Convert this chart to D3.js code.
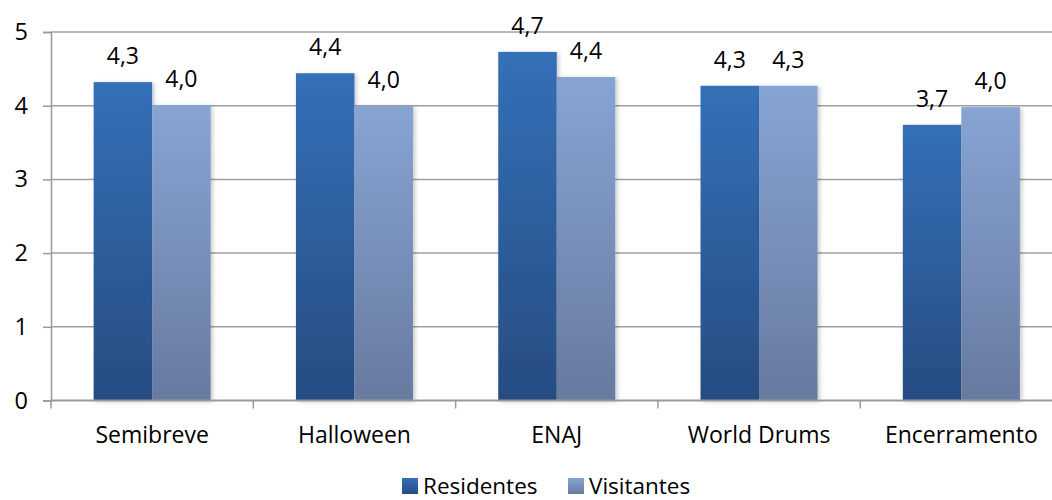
<!DOCTYPE html>
<html>
<head>
<meta charset="utf-8">
<script src="https://cdn.jsdelivr.net/npm/d3@7"></script>
<style>
  html, body { margin: 0; padding: 0; background: #fff; }
  svg { display: block; font-family: "Open Sans", Lato, sans-serif; }
</style>
</head>
<body>
<svg id="chart" width="1052" height="500"></svg>
<script>
const categories = ["Semibreve", "Halloween", "ENAJ", "World Drums", "Encerramento"];
const seriesNames = ["Residentes", "Visitantes"];
const residentes = [4.32, 4.44, 4.73, 4.27, 3.74];
const visitantes = [4.01, 4.00, 4.39, 4.27, 3.98];
const yTicks = [0, 1, 2, 3, 4, 5];

(function () {
const svg = d3.select("#chart");
const W = 1052, H = 500;
const mLeft = 51, mRight = 1062.5, mTop = 32, mBottom = 400.5;

const x0 = d3.scaleBand().domain(categories).range([mLeft, mRight]).paddingInner(0.4216).paddingOuter(0.2108);
const x1 = d3.scaleBand().domain(seriesNames).range([0, x0.bandwidth()]);
const y = d3.scaleLinear().domain([0, 5]).range([mBottom, mTop]);

const defs = svg.append("defs");
const g1 = defs.append("linearGradient").attr("id", "gRes").attr("x1", 0).attr("y1", 0).attr("x2", 0).attr("y2", 1);
g1.append("stop").attr("offset", "0%").attr("stop-color", "#3470b8");
g1.append("stop").attr("offset", "100%").attr("stop-color", "#274c82");
const g2 = defs.append("linearGradient").attr("id", "gVis").attr("x1", 0).attr("y1", 0).attr("x2", 0).attr("y2", 1);
g2.append("stop").attr("offset", "0%").attr("stop-color", "#87a4d3");
g2.append("stop").attr("offset", "100%").attr("stop-color", "#677aa0");
const f = defs.append("filter").attr("id", "shadow").attr("x", "-20%").attr("y", "-20%").attr("width", "140%").attr("height", "140%");
f.append("feDropShadow").attr("dx", 2).attr("dy", 1).attr("stdDeviation", 2).attr("flood-color", "#000").attr("flood-opacity", 0.22);

const fills = { Residentes: "url(#gRes)", Visitantes: "url(#gVis)" };

// gridlines
svg.append("g").selectAll("line").data(yTicks.filter(d => d > 0)).join("line")
  .attr("x1", mLeft).attr("x2", W).attr("y1", d => y(d)).attr("y2", d => y(d))
  .attr("stroke", "#a0a0a0").attr("stroke-width", 1.5);

// y axis
const yAxis = svg.append("g").attr("transform", `translate(${mLeft},0)`)
  .call(d3.axisLeft(y).tickValues(yTicks).tickSize(8).tickPadding(15).tickFormat(d3.format("d")));
yAxis.select(".domain").attr("stroke", "#999").attr("stroke-width", 1.5);
yAxis.selectAll(".tick line").attr("stroke", "#999").attr("stroke-width", 1.5);
yAxis.selectAll(".tick text").attr("font-size", 23.5).attr("fill", "#000").attr("font-family", "Open Sans");

// bars
const data = categories.map((c, i) => ({ cat: c, vals: [
  { s: "Residentes", v: residentes[i] }, { s: "Visitantes", v: visitantes[i] } ] }));

const groups = svg.append("g").selectAll("g").data(data).join("g")
  .attr("transform", d => `translate(${x0(d.cat)},0)`);
groups.selectAll("rect").data(d => d.vals).join("rect")
  .attr("x", d => x1(d.s)).attr("width", x1.bandwidth())
  .attr("y", d => y(d.v)).attr("height", d => y(0) - y(d.v))
  .attr("fill", d => fills[d.s]).attr("filter", "url(#shadow)");

// x axis
const xAxis = svg.append("g").attr("transform", `translate(0,${mBottom})`);
xAxis.append("line").attr("x1", mLeft).attr("x2", W).attr("stroke", "#999").attr("stroke-width", 2);
const xt = [0, 1, 2, 3, 4].map(i => x0.step() * i + mLeft);
xAxis.selectAll("line.tk").data(xt).join("line").attr("class", "tk")
  .attr("x1", d => d).attr("x2", d => d).attr("y1", 0).attr("y2", 8)
  .attr("stroke", "#999").attr("stroke-width", 1.5);
xAxis.selectAll("text").data(categories).join("text")
  .attr("x", d => x0(d) + x0.bandwidth() / 2).attr("y", 42.5)
  .attr("text-anchor", "middle").attr("font-size", 23).attr("fill", "#000")
  .text(d => d);

// data labels
groups.selectAll("text").data(d => d.vals).join("text")
  .attr("x", d => x1(d.s) + x1.bandwidth() / 2).attr("y", d => y(d.v) - 18)
  .attr("text-anchor", "middle").attr("font-size", 23).attr("fill", "#000")
  .text(d => d3.format(".1f")(d.v).replace(".", ","));

// legend
const legend = svg.append("g");
const lx = [402, 568];
seriesNames.forEach((s, i) => {
  legend.append("rect").attr("x", lx[i]).attr("y", 478).attr("width", 16).attr("height", 16).attr("fill", fills[s]);
  legend.append("text").attr("x", lx[i] + 21).attr("y", 494).attr("font-size", 22.5).attr("fill", "#000").text(s);
});
})();
</script>
</body>
</html>
